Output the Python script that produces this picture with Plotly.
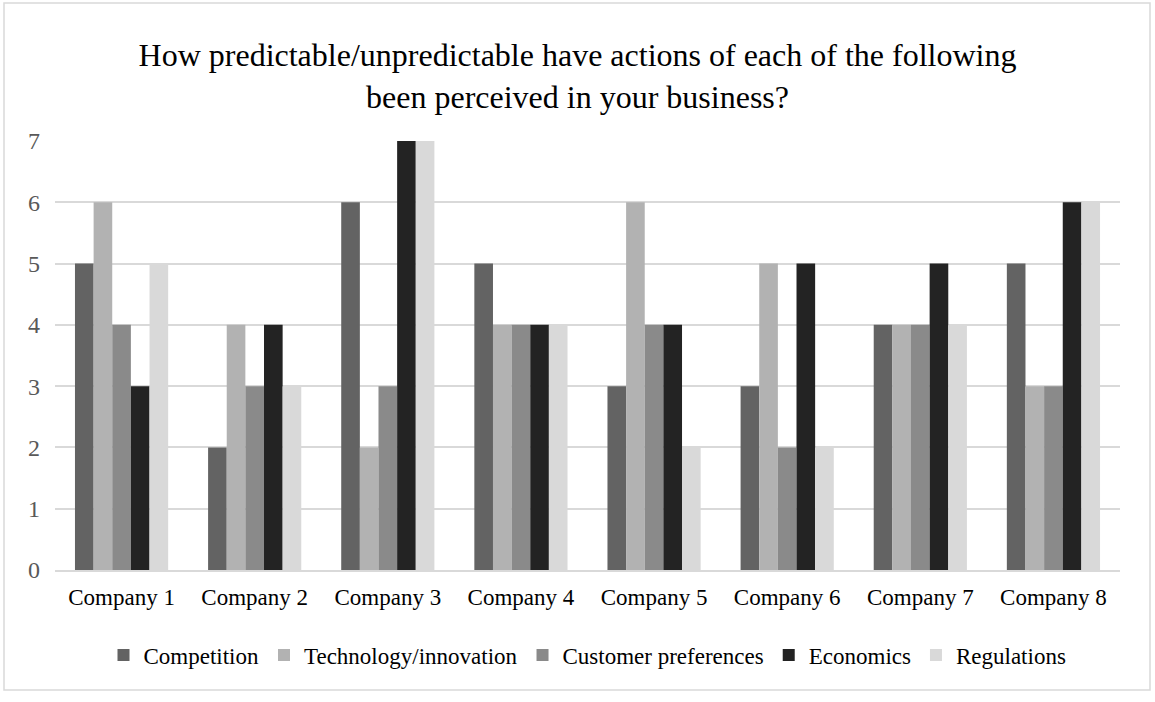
import plotly.graph_objects as go

companies = ["Company 1", "Company 2", "Company 3", "Company 4",
             "Company 5", "Company 6", "Company 7", "Company 8"]
competition = [5, 2, 6, 5, 3, 3, 4, 5]
technology = [6, 4, 2, 4, 6, 5, 4, 3]
customer = [4, 3, 3, 4, 4, 2, 4, 3]
economics = [3, 4, 7, 4, 4, 5, 5, 6]
regulations = [5, 3, 7, 4, 2, 2, 4, 6]

series = [
    ("Competition", competition, "#636363"),
    ("Technology/innovation", technology, "#b2b2b2"),
    ("Customer preferences", customer, "#8a8a8a"),
    ("Economics", economics, "#232323"),
    ("Regulations", regulations, "#d9d9d9"),
]

fig = go.Figure()
for name, vals, col in series:
    fig.add_trace(go.Bar(x=companies, y=vals, name=name,
                         marker=dict(color=col, line=dict(width=0))))

font = "Liberation Serif, Times New Roman, serif"
L, R, T, B = 55, 35, 141, 132
W, H = 1155, 702
pw, ph = W - L - R, H - T - B

fig.update_layout(
    width=W, height=H,
    margin=dict(l=L, r=R, t=T, b=B),
    paper_bgcolor="white", plot_bgcolor="white",
    barmode="group", bargap=0.3, bargroupgap=0,
    font=dict(family=font, size=23, color="#000000"),
    title=dict(text="How predictable/unpredictable have actions of each of the following<br>been perceived in your business?",
               x=0.5, xanchor="center", y=1 - 66 / H, yanchor="middle",
               font=dict(family=font, size=32, color="#000000")),
    xaxis=dict(showgrid=False, showline=True, linecolor="#d9d9d9", linewidth=1.5,
               ticks="", tickfont=dict(size=23, color="#000000"), ticklabelstandoff=6),
    yaxis=dict(range=[0, 7], dtick=1, showgrid=True, gridcolor="#d9d9d9", gridwidth=1.5,
               zeroline=False, showline=False, ticks="",
               tickfont=dict(size=24, color="#595959"), ticklabelstandoff=14),
    legend=dict(orientation="h", x=0.5, xanchor="center",
                y=(570 - 655) / ph, yanchor="middle",
                font=dict(size=23, color="#000000"),
                itemwidth=30, tracegroupgap=0),
    showlegend=True,
)

fig.add_shape(type="rect", xref="paper", yref="paper",
              x0=(4 - L) / pw, x1=(1150 - L) / pw,
              y0=(570 - 690) / ph, y1=(570 - 3) / ph,
              line=dict(color="#d9d9d9", width=1.5), layer="below")

fig.write_html("out.html")
